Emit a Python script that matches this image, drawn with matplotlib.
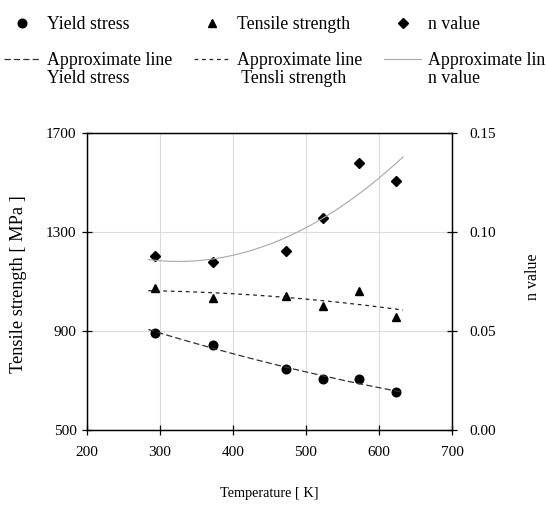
import numpy as np
import matplotlib
matplotlib.use('Agg')
import matplotlib.pyplot as plt
from matplotlib.lines import Line2D

plt.rcParams['font.family'] = ['Liberation Serif', 'DejaVu Serif']
plt.rcParams['font.size'] = 11

# Measured data
temperature = [293, 373, 473, 523, 573, 623]
yield_stress = [893, 843, 745, 707, 705, 653]
tensile_strength = [1075, 1032, 1041, 1002, 1063, 958]
n_value = [0.0877, 0.0848, 0.0904, 0.1071, 0.1347, 0.1256]

x_ticks = [200, 300, 400, 500, 600, 700]
left_ticks = [500, 900, 1300, 1700]
right_ticks = [0.00, 0.05, 0.10, 0.15]

# Approximate lines (quadratic fits over the measured range)
t_fit = np.linspace(284, 633, 200)
fit_yield = np.polyval(np.polyfit(temperature, yield_stress, 2), t_fit)
fit_tensile = np.polyval(np.polyfit(temperature, tensile_strength, 2), t_fit)
fit_n = np.polyval(np.polyfit(temperature, n_value, 2), t_fit)

fig = plt.figure(figsize=(5.46, 5.08), dpi=100)
ax = fig.add_axes([0.1593, 0.1535, 0.6685, 0.5847])
ax2 = ax.twinx()

ax.grid(True, color='#dcdcdc', linewidth=0.8)
ax.set_axisbelow(True)

h1, = ax.plot(temperature, yield_stress, 'o', color='black', markersize=6.2, linestyle='none')
l1, = ax.plot(t_fit, fit_yield, color='#333333', linewidth=0.9, dashes=(5, 2.5))
h2, = ax.plot(temperature, tensile_strength, '^', color='black', markersize=6.2, linestyle='none')
l2, = ax.plot(t_fit, fit_tensile, color='#222222', linewidth=0.9, dashes=(3, 3))
h3, = ax2.plot(temperature, n_value, 'D', color='black', markersize=5.5, linestyle='none')
l3, = ax2.plot(t_fit, fit_n, color='#a8a8a8', linewidth=0.8)

ax.set_xlim(200, 700)
ax.set_ylim(500, 1700)
ax2.set_ylim(0, 0.15)
ax.set_xticks(x_ticks)
ax.set_yticks(left_ticks)
ax2.set_yticks(right_ticks)
ax2.set_yticklabels([f'{v:.2f}' for v in right_ticks])

for a in (ax, ax2):
    a.tick_params(direction='inout', length=7, width=0.9, labelsize=11)
    for s in a.spines.values():
        s.set_linewidth(0.9)
ax.tick_params(axis='y', right=False, pad=4)
ax.tick_params(axis='x', pad=8)
ax2.tick_params(axis='y', pad=9)

ax.set_xlabel('Temperature [ K]', fontsize=10.3, labelpad=20)
ax.set_ylabel('Tensile strength [ MPa ]', fontsize=13.2, labelpad=14)
ax2.set_ylabel('n value', fontsize=11.5, labelpad=21)
ax.yaxis.label.set_y(0.49)
ax2.yaxis.label.set_y(0.515)

# legend: markers in the top row, approximate lines (two-line labels) below
blank = Line2D([], [], linestyle='none')
handles = [h1, blank, l1, blank,
           h2, blank, l2, blank,
           h3, blank, l3, blank]
labels = ['Yield stress', ' ', 'Approximate line', 'Yield stress',
          'Tensile strength', ' ', 'Approximate line', ' Tensli strength',
          'n value', ' ', 'Approximate line', 'n value']
fig.legend(handles, labels, ncol=3, loc='upper left', bbox_to_anchor=(3.5 / 546, 1 - 16 / 508),
           frameon=False, fontsize=12.8, handlelength=2.08, handletextpad=0.34,
           columnspacing=1.25, labelspacing=0.05, borderpad=0, borderaxespad=0)

fig.savefig('out.png', dpi=100)
